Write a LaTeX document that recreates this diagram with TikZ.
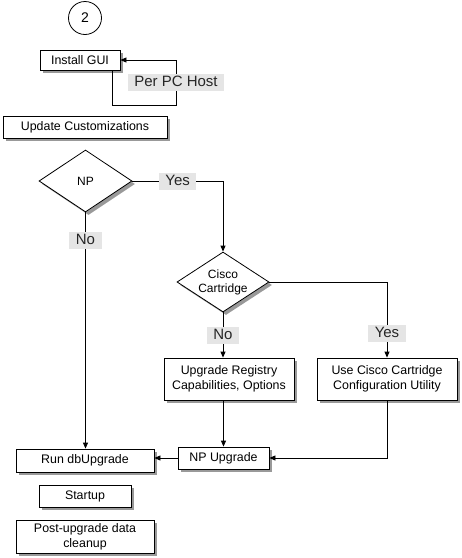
\documentclass[tikz,border=0pt]{standalone}
\usepackage{fontspec}
\setmainfont{Liberation Sans}
\usetikzlibrary{arrows.meta,shapes.geometric,shadows}
\begin{document}
\begin{tikzpicture}[x=1pt,y=-1pt,
    box/.style={draw,fill=white,line width=0.8pt,inner sep=1pt,align=center,font=\fontsize{12.4}{15}\selectfont,
        drop shadow={shadow xshift=3pt,shadow yshift=-3pt,fill=black!40,opacity=1}},
    decision/.style={box,diamond,aspect=1.5,inner sep=0pt,font=\fontsize{12}{14}\selectfont},
    lbl/.style={fill=black!10,inner xsep=6.5pt,inner ysep=1.5pt,text height=11pt,text depth=3pt,text=black!85,font=\fontsize{15}{17}\selectfont},
    arr/.style={-{Triangle[length=6pt,width=5pt]},line width=0.8pt}]
    \useasboundingbox (0,0) rectangle (462,558);
    \node[circle,draw,line width=0.8pt,minimum size=33pt,inner sep=0pt,font=\fontsize{14}{16}\selectfont] (step) at (85,18) {2};
    \node[box,minimum width=80pt,minimum height=20pt] (gui) at (80,60) {Install GUI};
    \coordinate (loop) at (176,105);
    \node[box,minimum width=164pt,minimum height=22pt] (upd) at (85,127) {Update Customizations};
    \node[decision,minimum width=93pt,minimum height=62pt] (np) at (85.5,181) {NP};
    \node[decision,minimum width=92pt,minimum height=60pt] (cisco) at (223,282) {Cisco\\Cartridge};
    \node[box,minimum width=130pt,minimum height=42pt] (reg) at (229,379) {Upgrade Registry\\Capabilities, Options};
    \node[box,minimum width=140pt,minimum height=42pt] (use) at (387,379) {Use Cisco Cartridge\\Configuration Utility};
    \node[box,minimum width=138pt,minimum height=23pt] (run) at (85,460.5) {Run dbUpgrade};
    \node[box,minimum width=91pt,minimum height=22pt] (npu) at (223.5,458) {NP Upgrade};
    \node[box,minimum width=92pt,minimum height=22pt] (start) at (85,496) {Startup};
    \node[box,minimum width=138pt,minimum height=33pt] (post) at (85,536.5) {Post-upgrade data\\cleanup};
    \draw[arr] ([xshift=-8pt]gui.south east) |- (loop) |- (gui.east) node[lbl,pos=0.25] {Per PC Host};
    \draw[arr] (np.east) -| (cisco.north) node[lbl,pos=0.25] {Yes};
    \draw[arr] (np.south) -- (np.south |- run.north) node[lbl,pos=0.12] {No};
    \draw[arr] (cisco.south) -- (cisco.south |- reg.north) node[lbl,midway] {No};
    \draw[arr] (cisco.east) -| (use.north) node[lbl,pos=0.84] {Yes};
    \draw[arr] (reg.south -| npu.north) -- (npu.north);
    \draw[arr] (use.south) |- (npu.east);
    \draw[arr] (npu.west) -- (npu.west -| run.east);
\end{tikzpicture}
\end{document}
